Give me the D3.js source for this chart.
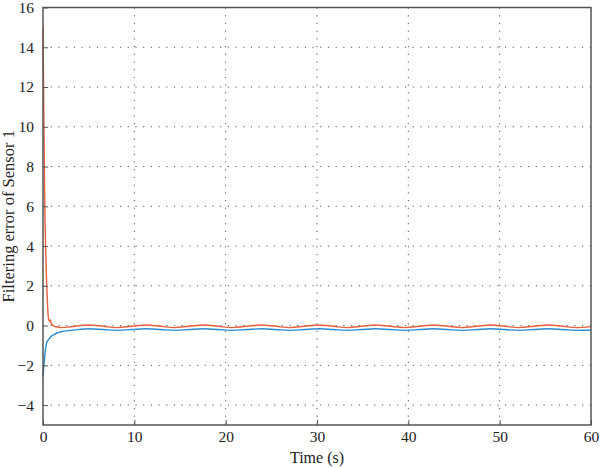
<!DOCTYPE html>
<html>
<head>
<meta charset="utf-8">
<script src="https://cdn.jsdelivr.net/npm/d3@7"></script>
<style>
  body { margin: 0; background: #fff; }
  text { font-family: "Liberation Serif", "DejaVu Serif", serif; fill: #222; }
</style>
</head>
<body>
<svg id="chart"></svg>
<script>
// data
const xTicks = [0, 10, 20, 30, 40, 50, 60];
const yTicks = [-4, -2, 0, 2, 4, 6, 8, 10, 12, 14, 16];

const redT = [0, 0.05, 0.1, 0.15, 0.2, 0.3, 0.4, 0.5, 0.6, 0.7, 0.8, 0.9, 1.1, 1.4, 2.0, 3.0,
  5.0, 6.6, 8.1, 9.7, 11.3, 12.9, 14.4, 16.0, 17.6, 19.2, 20.7, 22.3, 23.9, 25.5, 27.0, 28.6,
  30.2, 31.8, 33.3, 34.9, 36.4, 38.0, 39.6, 41.2, 42.7, 44.3, 45.9, 47.5, 49.0, 50.6, 52.1,
  53.7, 55.3, 56.9, 58.4, 60];
const redV = [15, 12.6, 10.2, 8.0, 6.0, 3.7, 2.1, 1.0, 0.35, 0.22, 0.28, 0.12, 0.0, -0.06, -0.1, -0.06,
  0.03, -0.035, -0.1, -0.035, 0.03, -0.035, -0.1, -0.035, 0.03, -0.035, -0.1, -0.035, 0.03, -0.035, -0.1, -0.035,
  0.03, -0.035, -0.1, -0.035, 0.03, -0.035, -0.1, -0.035, 0.03, -0.035, -0.1, -0.035, 0.03, -0.035, -0.1,
  -0.035, 0.03, -0.035, -0.1, -0.05];

const blueT = [0, 0.1, 0.2, 0.3, 0.4, 0.5, 0.6, 0.7, 0.9, 1.2, 1.6, 2.0, 3.0, 4.0,
  5.0, 6.6, 8.1, 9.7, 11.3, 12.9, 14.4, 16.0, 17.6, 19.2, 20.7, 22.3, 23.9, 25.5, 27.0, 28.6,
  30.2, 31.8, 33.3, 34.9, 36.4, 38.0, 39.6, 41.2, 42.7, 44.3, 45.9, 47.5, 49.0, 50.6, 52.1,
  53.7, 55.3, 56.9, 58.4, 60];
const blueV = [-2.55, -2.0, -1.5, -1.1, -0.86, -0.76, -0.72, -0.64, -0.54, -0.45, -0.36, -0.31, -0.24, -0.19,
  -0.16, -0.2, -0.24, -0.2, -0.16, -0.2, -0.24, -0.2, -0.16, -0.2, -0.24, -0.2, -0.16, -0.2, -0.24, -0.2,
  -0.16, -0.2, -0.24, -0.2, -0.16, -0.2, -0.24, -0.2, -0.16, -0.2, -0.24, -0.2, -0.16, -0.2, -0.24,
  -0.2, -0.16, -0.2, -0.24, -0.22];

const width = 600, height = 468;
const margin = { top: 7.5, right: 9, bottom: 43, left: 43 };
const w = width - margin.left - margin.right;
const h = height - margin.top - margin.bottom;

const svg = d3.select("#chart").attr("width", width).attr("height", height);
const g = svg.append("g").attr("transform", `translate(${margin.left},${margin.top})`);

const x = d3.scaleLinear().domain([0, 60]).range([0, w]);
const y = d3.scaleLinear().domain([-5, 16]).range([h, 0]);

// dotted grid
g.append("g").selectAll("line").data(xTicks.slice(1, -1)).join("line")
  .attr("x1", d => x(d)).attr("x2", d => x(d)).attr("y1", 0).attr("y2", h)
  .attr("stroke", "#555").attr("stroke-width", 1).attr("stroke-dasharray", "1.2,6.5");
g.append("g").selectAll("line").data(yTicks.slice(0, -1)).join("line")
  .attr("x1", 0).attr("x2", w).attr("y1", d => y(d)).attr("y2", d => y(d))
  .attr("stroke", "#555").attr("stroke-width", 1).attr("stroke-dasharray", "1.2,6.5");

// lines
const line = (ts, vs) => d3.line()
  .x((d, i) => x(ts[i])).y(d => y(d))
  .curve(d3.curveMonotoneX)(vs);

g.append("path").attr("d", line(redT, redV))
  .attr("fill", "none").attr("stroke", "#e5603b").attr("stroke-width", 1.4);
g.append("path").attr("d", line(blueT, blueV))
  .attr("fill", "none").attr("stroke", "#2a8ad4").attr("stroke-width", 1.4);

// axes, ticks inside
const xAxis = d3.axisBottom(x).tickValues(xTicks).tickSizeInner(-5).tickSizeOuter(0).tickPadding(6);
const yAxis = d3.axisLeft(y).tickValues(yTicks).tickSizeInner(-5).tickSizeOuter(0).tickPadding(9);

const gx = g.append("g").attr("transform", `translate(0,${h})`).call(xAxis);
const gy = g.append("g").call(yAxis);
[gx, gy].forEach(a => {
  a.selectAll("text").style("font-size", "15.5px").attr("fill", "#222");
  a.selectAll("line").attr("stroke", "#555");
  a.select(".domain").remove();
});

// frame
g.append("rect").attr("width", w).attr("height", h)
  .attr("fill", "none").attr("stroke", "#555").attr("stroke-width", 1.5);

svg.append("text").attr("x", margin.left + w / 2).attr("y", 463)
  .attr("text-anchor", "middle").style("font-size", "16px").text("Time (s)");
svg.append("text")
  .attr("transform", `translate(14,${margin.top + h / 2}) rotate(-90)`)
  .attr("text-anchor", "middle").style("font-size", "16.5px").text("Filtering error of Sensor 1");
</script>
</body>
</html>
